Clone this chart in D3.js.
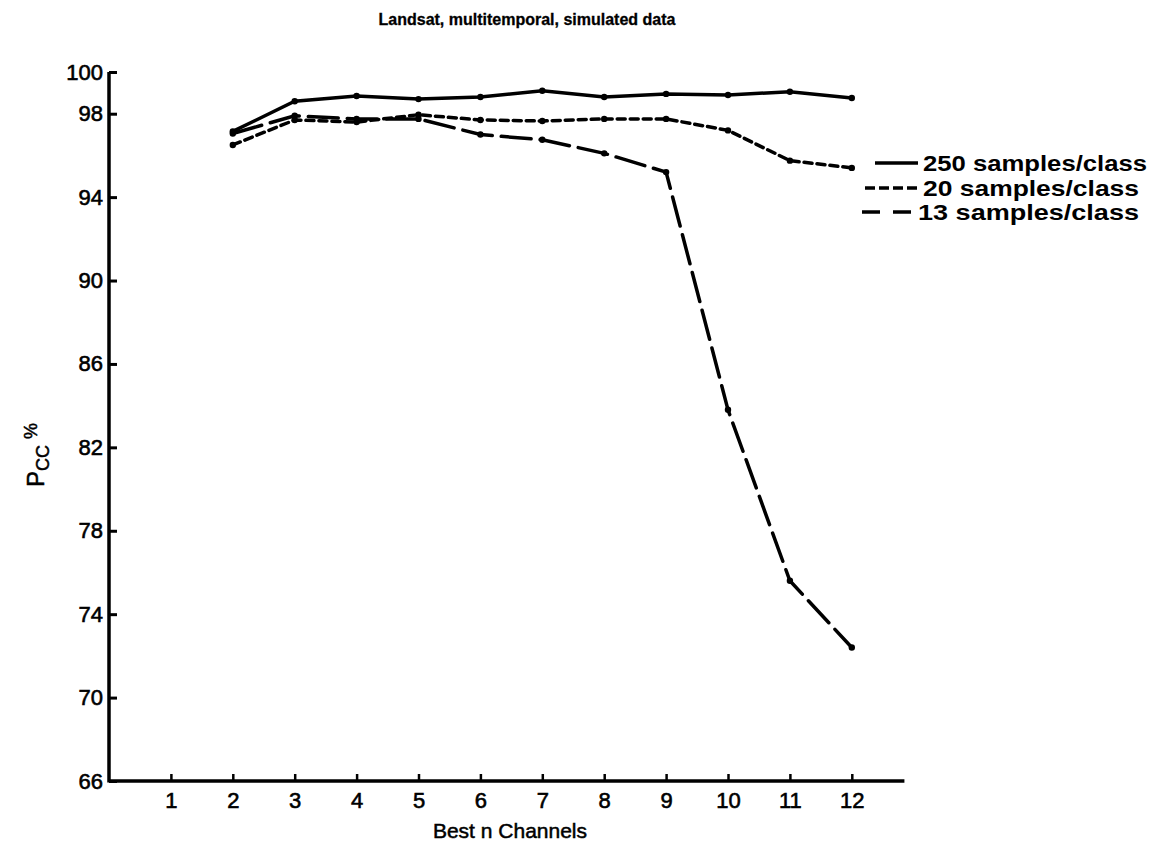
<!DOCTYPE html>
<html>
<head>
<meta charset="utf-8">
<script src="https://cdn.jsdelivr.net/npm/d3@7"></script>
<style>
  html, body { margin: 0; padding: 0; background: #fff; }
  svg { display: block; font-family: "Liberation Sans", Arial, Helvetica, sans-serif; }
</style>
</head>
<body>
<svg id="chart" width="1157" height="845"></svg>
<script>
// ---- data ----
const channels = [2, 3, 4, 5, 6, 7, 8, 9, 10, 11, 12];
const samples250 = [97.15, 98.6, 98.85, 98.7, 98.8, 99.1, 98.8, 98.95, 98.9, 99.05, 98.75];
const samples20  = [96.5, 97.7, 97.6, 97.95, 97.7, 97.65, 97.75, 97.75, 97.2, 95.75, 95.4];
const samples13  = [97.05, 97.9, 97.75, 97.75, 97.0, 96.75, 96.1, 95.2, 83.8, 75.6, 72.4];
const xTickValues = [1, 2, 3, 4, 5, 6, 7, 8, 9, 10, 11, 12];
const yTickValues = [66, 70, 74, 78, 82, 86, 90, 94, 98, 100];
const seriesNames = ["250 samples/class", "20 samples/class", "13 samples/class"];
const titleText = "Landsat, multitemporal, simulated data";
const xLabel = "Best n Channels";

// ---- layout ----
const svg = d3.select("#chart");
const x = d3.scaleLinear().domain([0, 13]).range([109, 109 + 13 * 61.9]);
const y = d3.scaleLinear().domain([66, 100]).range([781, 72]);

const series = [
  { name: seriesNames[0], values: samples250, dash: null },
  { name: seriesNames[1], values: samples20, dash: "8,5" },
  { name: seriesNames[2], values: samples13, dash: "30,9" }
];

// title
svg.append("text")
  .attr("x", 527).attr("y", 25)
  .attr("text-anchor", "middle")
  .attr("font-size", 16).attr("font-weight", "bold")
  .attr("stroke", "#000").attr("stroke-width", 0.3)
  .text(titleText);

// y axis
const yAxis = svg.append("g")
  .attr("transform", `translate(${x(0)},0)`)
  .call(d3.axisLeft(y).tickValues(yTickValues).tickSize(-8).tickPadding(6).tickFormat(d3.format("d")));
yAxis.select(".domain").remove();
yAxis.append("line")
  .attr("x1", 0).attr("x2", 0)
  .attr("y1", y(66) + 1.5).attr("y2", y(100))
  .attr("stroke", "#000").attr("stroke-width", 3.5);
yAxis.selectAll(".tick line").attr("stroke", "#000").attr("stroke-width", 3);
yAxis.selectAll(".tick text")
  .attr("font-size", 22).attr("fill", "#000")
  .attr("stroke", "#000").attr("stroke-width", 0.6)
  .style("font-family", "'Liberation Sans', Arial, sans-serif");

// x axis
const xAxis = svg.append("g")
  .attr("transform", `translate(0,${y(66)})`)
  .call(d3.axisBottom(x).tickValues(xTickValues).tickSize(-7).tickPadding(11).tickFormat(d3.format("d")));
xAxis.select(".domain").remove();
xAxis.append("line")
  .attr("x1", x(0)).attr("x2", x(12.85))
  .attr("y1", 0).attr("y2", 0)
  .attr("stroke", "#000").attr("stroke-width", 3.5);
xAxis.selectAll(".tick line").attr("stroke", "#000").attr("stroke-width", 2.5);
xAxis.selectAll(".tick text")
  .attr("font-size", 22).attr("fill", "#000")
  .attr("stroke", "#000").attr("stroke-width", 0.6)
  .style("font-family", "'Liberation Sans', Arial, sans-serif");

// x label
svg.append("text")
  .attr("x", 510).attr("y", 838)
  .attr("text-anchor", "middle")
  .attr("font-size", 21)
  .attr("stroke", "#000").attr("stroke-width", 0.5)
  .text(xLabel);

// y label: P_CC %
const yl = svg.append("text")
  .attr("transform", "translate(44,455) rotate(-90)")
  .attr("text-anchor", "middle")
  .attr("font-size", 24)
  .attr("stroke", "#000").attr("stroke-width", 0.5);
yl.append("tspan").text("P");
yl.append("tspan").attr("font-size", 18).attr("dy", 5).text("CC");
yl.append("tspan").attr("font-size", 18).attr("dy", -12).attr("dx", 6).text("%");

// lines
const line = d3.line().x((d, i) => x(channels[i])).y(d => y(d));
const g = svg.append("g");
series.forEach(s => {
  g.append("path")
    .datum(s.values)
    .attr("d", line)
    .attr("fill", "none")
    .attr("stroke", "#000")
    .attr("stroke-width", 3.5)
    .attr("stroke-linecap", "round")
    .attr("stroke-dasharray", s.dash);
  g.selectAll(null).data(s.values).enter().append("circle")
    .attr("cx", (d, i) => x(channels[i]))
    .attr("cy", d => y(d))
    .attr("r", 3.2)
    .attr("fill", "#000");
});

// legend
const legendRows = [
  { x1: 875, x2: 918, ty: 163, w: 224 },
  { x1: 865, x2: 918, ty: 188, w: 216 },
  { x1: 862, x2: 913, ty: 212, w: 221 }
];
const legendDash = [null, "10,4", "18,13"];
series.forEach((s, i) => {
  const r = legendRows[i];
  svg.append("line")
    .attr("x1", r.x1).attr("x2", r.x2)
    .attr("y1", r.ty).attr("y2", r.ty)
    .attr("stroke", "#000").attr("stroke-width", 3.5)
    .attr("stroke-dasharray", legendDash[i]);
  svg.append("text")
    .attr("x", r.x2 + 5).attr("y", r.ty + 8)
    .attr("font-size", 22).attr("font-weight", "bold")
    .attr("textLength", r.w).attr("lengthAdjust", "spacingAndGlyphs")
    .text(s.name);
});
</script>
</body>
</html>
